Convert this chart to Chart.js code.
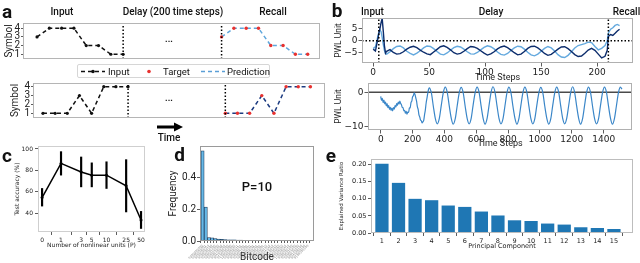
<!DOCTYPE html>
<html>
<head>
<meta charset="utf-8">
<script src="https://cdn.jsdelivr.net/npm/chart.js@4.4.1/dist/chart.umd.min.js"></script>
<style>
  body { margin: 0; width: 640px; height: 263px; overflow: hidden; background: #fff; position: relative; font-family: Roboto, "Noto Sans", sans-serif; color: #111; }
  canvas { position: absolute; }
  .t { position: absolute; white-space: nowrap; line-height: 1; transform: translate(-50%, -50%); }
  .lbl { font-size: 19px; font-weight: 700; }
  .ttl { font-size: 10px; font-weight: 500; }
  #legA { position: absolute; left: 77px; top: 64px; width: 193px; height: 14px; border: 1px solid #d6d6d6; border-radius: 2px; box-sizing: border-box; font-size: 9.5px; }
  #legA span { position: absolute; top: 1px; line-height: 11px; }
  #legA svg { position: absolute; top: 1px; }
</style>
</head>
<body>
<canvas id="chartA1"></canvas>
<canvas id="chartA2"></canvas>
<canvas id="chartC"></canvas>
<canvas id="chartD"></canvas>
<canvas id="chartE"></canvas>
<canvas id="chartB1"></canvas>
<canvas id="chartB2"></canvas>

<div class="t lbl" style="left:7px;top:11px">a</div>
<div class="t ttl" style="left:62px;top:11.5px">Input</div>
<div class="t ttl" style="left:173px;top:11.5px">Delay (200 time steps)</div>
<div class="t ttl" style="left:273px;top:11.5px">Recall</div>
<div class="t" style="left:169px;top:39px;font-size:9px;font-weight:700">...</div>
<div class="t" style="left:169px;top:98px;font-size:9px;font-weight:700">...</div>
<svg style="position:absolute;left:157px;top:122px" width="27" height="10">
  <rect x="0" y="3.5" width="19" height="3" fill="#000"/>
  <polygon points="17,0.5 26,5 17,9.5" fill="#000"/>
</svg>
<div class="t ttl" style="left:169px;top:137.5px">Time</div>

<div class="t lbl" style="left:337px;top:10px">b</div>
<div class="t ttl" style="left:372.5px;top:11.5px">Input</div>
<div class="t ttl" style="left:491px;top:11.5px">Delay</div>
<div class="t ttl" style="left:626.5px;top:11.5px">Recall</div>

<div class="t lbl" style="left:7px;top:154.5px">c</div>
<div class="t lbl" style="left:179.5px;top:154px">d</div>
<div class="t lbl" style="left:331px;top:154.5px">e</div>
<div class="t" style="left:257px;top:186px;font-size:13px;font-weight:500">P=10</div>

<div id="legA">
  <svg width="24" height="11" style="left:3px"><line x1="0" y1="5.5" x2="24" y2="5.5" stroke="#111" stroke-width="1.5" stroke-dasharray="4,3"/><circle cx="12" cy="5.5" r="1.8" fill="#111"/></svg>
  <span style="left:30px">Input</span>
  <svg width="6" height="11" style="left:68px"><circle cx="3" cy="5.5" r="1.8" fill="#e8312f"/></svg>
  <span style="left:85px">Target</span>
  <svg width="24" height="11" style="left:123px"><line x1="0" y1="5.5" x2="24" y2="5.5" stroke="#5b9fd6" stroke-width="1.5" stroke-dasharray="4,3"/></svg>
  <span style="left:149px">Prediction</span>
</div>

<script>
// ---- panel a: symbol sequences
const inputStepsA = [1, 2, 3, 4, 5, 6, 7, 8];
const recallStepsA = [16, 17, 18, 19, 20, 21, 22, 23];
const symbolsA1 = [3, 4, 4, 4, 2, 2, 1, 1];
const predictionA1 = [3, 4, 4, 4, 2, 2, 1, 1];
const symbolsA2 = [1, 1, 1, 3, 1, 4, 4, 4];
const predictionA2 = [1, 1, 1, 3, 1, 4, 4, 4];
const delayBoundsA = [8, 16];
const symbolTicks = [1, 2, 3, 4];

// ---- panel b (top): two PWL units over the task
const timeB1 = [0, 2, 4, 5, 6, 7, 8, 9, 10, 11, 12,
  15, 18, 21, 24, 27, 30, 33, 36, 39, 42, 45, 48, 51, 54, 57, 60, 63, 66, 69, 72, 75, 78, 81, 84, 87, 90,
  93, 96, 99, 102, 105, 108, 111, 114, 117, 120, 123, 126, 129, 132, 135, 138, 141, 144, 147, 150, 153,
  156, 159, 162, 165, 168, 171, 174, 177, 180, 183, 186, 189, 192, 195, 198, 201, 204, 207,
  209, 210, 212, 214, 216, 218, 220];
const unitDark = [-3.5, -4.3, 0.5, 3, 5, 7.5, 9.4, 4, -2, -5.2, -4.4,
  -3.7, -4.9, -5.6, -5.4, -4.6, -3.5, -2.7, -2.3, -2.9, -3.9, -4.8, -5.5, -5.8, -4.7, -3.6, -2.5, -2.1, -2.8, -3.8, -5.0, -5.6, -5.3, -4.4, -3.3, -2.4, -2.6,
  -3.2, -4.2, -5.2, -6.0, -5.5, -4.6, -3.4, -2.6, -2.2, -2.9, -3.9, -5.0, -5.9, -5.6, -4.5, -3.2, -2.4, -2.3, -3.0, -4.1, -5.3,
  -6.1, -5.7, -4.6, -3.5, -2.6, -2.5, -3.3, -4.5, -5.8, -6.6, -6.4, -5.2, -3.9, -3.2, -4.0, -5.6, -7.2, -6.5,
  -4, 1.8, 2.6, 2.2, 3.1, 4.1, 4.8];
const unitLight = [-3.2, -2.6, 1.5, 3.5, 4.6, 3.8, 1.5, -1.5, -4, -5.3, -5.6,
  -4.6, -3.3, -2.4, -2.2, -3.0, -4.4, -5.3, -5.9, -5.2, -4.2, -3.0, -2.2, -2.4, -3.3, -4.5, -5.6, -5.9, -5.1, -4.0, -2.9, -2.3, -2.6, -3.5, -4.6, -5.5, -5.6,
  -4.9, -3.8, -2.8, -2.1, -2.5, -3.4, -4.7, -5.7, -6.0, -5.3, -4.1, -3.0, -2.3, -2.5, -3.5, -4.8, -5.9, -6.3, -5.6, -4.4, -3.2,
  -2.4, -3.0, -4.3, -5.8, -6.8, -7.0, -6.1, -4.6, -3.0, -2.0, -1.6, -1.2, -0.6, -0.8, -2.4, -3.8, -3.2, -2.0,
  0, 3.2, 4.8, 5.4, 6.4, 6.8, 6.3];
const boundsB1 = [5, 210];

// ---- panel b (bottom): one unit over a long run
const timeB2 = [0, 5, 10, 15, 20, 25, 30, 35, 40, 45, 50, 55, 60, 65, 70, 75, 80, 85, 90, 95,
  100, 105, 110, 115, 120, 125, 130, 135, 140, 145, 150, 155, 160, 165, 170, 175, 180, 185, 190, 195,
  200, 205, 210, 215, 220, 225, 230, 235, 240, 245, 250, 255, 260, 265, 270, 275, 280, 285, 290, 295, 300,
  305, 318, 330, 343, 355, 368, 380, 393,
  405, 418, 430, 443, 455, 468, 480, 493,
  505, 518, 530, 543, 555, 568, 580, 593,
  605, 618, 630, 643, 655, 668, 680, 693,
  705, 718, 730, 743, 755, 768, 780, 793,
  805, 818, 830, 843, 855, 868, 880, 893,
  905, 918, 930, 943, 955, 968, 980, 993,
  1005, 1018, 1030, 1043, 1055, 1068, 1080, 1093,
  1105, 1118, 1130, 1143, 1155, 1168, 1180, 1193,
  1205, 1218, 1230, 1243, 1255, 1268, 1280, 1293,
  1305, 1318, 1330, 1343, 1355, 1368, 1380, 1393,
  1405, 1418, 1430, 1443, 1455, 1468, 1480, 1493,
  1505, 1515];
const unitB2 = [-1.2, -2.4, -1.8, -3.0, -2.3, -3.4, -2.9, -4.0, -3.3, -4.5, -3.9, -5.0, -4.4, -5.3, -4.6, -5.4, -4.5, -4.9, -3.9, -4.3,
  -3.3, -3.8, -2.9, -3.4, -2.6, -3.3, -3.6, -4.4, -4.5, -5.4, -5.3, -6.1, -5.6, -6.4, -5.8, -5.9, -4.6, -4.5, -3.0, -2.6,
  -1.3, -1.0, -0.2, -0.6, -1.6, -2.6, -4.2, -5.0, -6.6, -7.2, -8.1, -8.3, -8.9, -8.6, -8.2, -6.6, -5.2, -3.2, -1.8, -0.4, 0.8,
  1.3, -0.2, -4.0, -7.7, -9.2, -7.6, -3.9, -0.1,
  1.5, -0.1, -3.9, -7.6, -9.3, -7.7, -4.0, -0.2,
  1.4, -0.2, -4.0, -7.7, -9.2, -7.6, -3.8, -0.1,
  1.5, -0.1, -3.9, -7.6, -9.3, -7.6, -3.9, 0.0,
  1.6, -0.1, -3.9, -7.7, -9.2, -7.7, -4.0, -0.1,
  1.5, -0.2, -4.0, -7.6, -9.3, -7.6, -3.9, -0.1,
  1.5, -0.1, -3.9, -7.7, -9.2, -7.6, -3.9, -0.2,
  1.4, -0.2, -4.0, -7.6, -9.3, -7.7, -3.9, -0.1,
  1.5, -0.1, -3.9, -7.7, -9.2, -7.6, -4.0, -0.1,
  1.6, -0.1, -3.9, -7.6, -9.3, -7.6, -3.9, 0.0,
  1.5, -0.2, -4.0, -7.7, -9.2, -7.7, -3.9, -0.1,
  1.5, -0.1, -3.9, -7.6, -9.3, -7.6, -4.0, -0.1,
  1.5, 0.9];

// ---- panel c: accuracy vs number of nonlinear units
const unitsP = [0, 1, 3, 5, 10, 25, 50];
const accuracy = [54.5, 86.5, 78.5, 75.5, 75.5, 65.5, 33.5];
const accLow = [46.5, 75.5, 64.5, 64.5, 63, 41, 25.5];
const accHigh = [63, 97.5, 92.5, 87, 88, 90, 41.5];
const accTicks = [40, 60, 80, 100];

// ---- panel d: bitcode frequencies
const bitcodes = ['0000000000', '0000000001', '0000000010', '0000000100', '0000001000', '0000010000', '0000100000',
  '0001000000', '0010000000', '0100000000', '1000000000', '0000000011', '0000000101', '0000001001', '0000010001',
  '0000100001', '0001000001', '0010000001', '0100000001', '1000000001', '0000000110', '0000001010', '0000010010',
  '0000100010', '0001000010', '0010000010', '0100000010', '1000000010', '0000001100', '0000010100', '0000100100',
  '0001000100', '0010000100', '0100000100'];
const frequency = [0.57, 0.215, 0.022, 0.02, 0.015, 0.012, 0.01, 0.009, 0.008, 0.007, 0.007, 0.006, 0.006, 0.005,
  0.005, 0.005, 0.004, 0.004, 0.004, 0.003, 0.003, 0.003, 0.002, 0.002, 0.002, 0.002, 0.002, 0.001, 0.001, 0.001,
  0.001, 0.001, 0.001, 0.001];
const freqTicks = [0, 0.2, 0.4];

// ---- panel e: PCA explained variance
const components = [1, 2, 3, 4, 5, 6, 7, 8, 9, 10, 11, 12, 13, 14, 15];
const varianceRatio = [0.202, 0.146, 0.0995, 0.0955, 0.08, 0.076, 0.0625, 0.051, 0.037, 0.035, 0.0275, 0.0245, 0.0167, 0.0146, 0.0117];
const varianceTicks = [0, 0.05, 0.1, 0.15, 0.2];

const xy = (xs, ys) => xs.map((x, i) => ({ x: x, y: ys[i] }));
const minus = v => String(v).replace('-', '\u2212');

// draws the full box round the plot area, like matplotlib spines
Chart.register({
  id: 'frame',
  afterDatasetsDraw(chart, args, opts) {
    const a = chart.chartArea, ctx = chart.ctx;
    ctx.save();
    ctx.strokeStyle = opts.color || '#aaa';
    ctx.lineWidth = 1;
    ctx.strokeRect(Math.round(a.left) + 0.5, Math.round(a.top) + 0.5, Math.round(a.right - a.left) - 1, Math.round(a.bottom - a.top) - 1);
    ctx.restore();
  }
});

function scaleCfg(s) {
  const hasTicks = !!s.ticks && !s.hideTicks;
  return {
    type: 'linear', min: s.min, max: s.max, offset: false,
    afterBuildTicks: sc => { sc.ticks = (s.ticks || []).map(v => ({ value: v })); },
    afterFit: sc => {
      if (s.width !== undefined) sc.width = s.width;
      if (s.height !== undefined) sc.height = s.height;
      sc.paddingLeft = sc.paddingRight = sc.paddingTop = sc.paddingBottom = 0;
    },
    ticks: {
      display: hasTicks, font: s.font, color: s.tickColor || '#222', padding: s.pad !== undefined ? s.pad : 1,
      autoSkip: false, maxRotation: s.rot || 0, minRotation: s.rot || 0,
      callback: s.fmt || minus
    },
    grid: { display: hasTicks, drawOnChartArea: false, tickLength: s.tickLen !== undefined ? s.tickLen : 3, tickColor: '#333', tickWidth: 0.8 },
    border: { display: false },
    title: s.title ? { display: true, text: s.title, font: s.titleFont, color: '#222', padding: s.titlePad } : { display: false }
  };
}

// box = [left, top, width, height] of the canvas, area = [left, top, right, bottom] of the plot
function makeChart(id, box, area, type, datasets, xs, ys, frameColor) {
  const c = document.getElementById(id);
  c.width = box[2]; c.height = box[3];
  c.style.left = box[0] + 'px'; c.style.top = box[1] + 'px';
  xs.height = box[1] + box[3] - area[3];
  ys.width = area[0] - box[0];
  return new Chart(c, {
    type: type,
    data: { datasets: datasets },
    options: {
      responsive: false, animation: false, events: [],
      layout: { autoPadding: false, padding: { left: 0, bottom: 0, top: area[1] - box[1], right: box[0] + box[2] - area[2] } },
      elements: { point: { radius: 0 }, line: { fill: false } },
      plugins: { legend: { display: false }, tooltip: { enabled: false }, frame: { color: frameColor } },
      scales: { x: scaleCfg(xs), y: scaleCfg(ys) }
    }
  });
}

const fontA = { family: 'Roboto', size: 10 };
const vline = (x, lo, hi) => [{ x: x, y: lo }, { x: x, y: hi }];
const dotted = { borderColor: '#000', borderWidth: 1.5, borderDash: [1.5, 2] };

// ---- a, top
const a1Y = [0.45, 4.6];
makeChart('chartA1', [0, 20, 325, 42], [23, 23, 320, 59], 'line', [
  Object.assign({ data: vline(delayBoundsA[0], a1Y[0], a1Y[1]) }, dotted),
  Object.assign({ data: vline(delayBoundsA[1], a1Y[0], a1Y[1]) }, dotted),
  { data: xy(recallStepsA, symbolsA1), showLine: false, pointRadius: 1.7, pointBackgroundColor: '#e8312f', pointBorderWidth: 0 },
  { data: xy(recallStepsA, predictionA1), borderColor: '#5ea6dc', borderWidth: 1.5, borderDash: [4, 3] },
  { data: xy(inputStepsA, symbolsA1), borderColor: '#111', borderWidth: 1.5, borderDash: [4, 3], pointRadius: 1.6, pointBackgroundColor: '#111', pointBorderWidth: 0 }
], { min: -0.14, max: 24.0, hideTicks: true },
   { min: a1Y[0], max: a1Y[1], ticks: symbolTicks, font: fontA, tickLen: 2, pad: 1,
     title: 'Symbol', titleFont: { family: 'Roboto', size: 10 }, titlePad: { top: 3 } }, '#b5b5b5');

// ---- a, bottom
const a2Y = [0.47, 4.42];
makeChart('chartA2', [0, 80, 330, 42], [33, 83, 325, 118], 'line', [
  Object.assign({ data: vline(delayBoundsA[0], a2Y[0], a2Y[1]) }, dotted),
  Object.assign({ data: vline(delayBoundsA[1], a2Y[0], a2Y[1]) }, dotted),
  { data: xy(recallStepsA, symbolsA2), showLine: false, pointRadius: 1.7, pointBackgroundColor: '#e8312f', pointBorderWidth: 0 },
  { data: xy(recallStepsA, predictionA2), borderColor: '#1c3b80', borderWidth: 1.5, borderDash: [4, 3] },
  { data: xy(inputStepsA, symbolsA2), borderColor: '#111', borderWidth: 1.5, borderDash: [4, 3], pointRadius: 1.6, pointBackgroundColor: '#111', pointBorderWidth: 0 }
], { min: 0.18, max: 24.2, hideTicks: true },
   { min: a2Y[0], max: a2Y[1], ticks: symbolTicks, font: fontA, tickLen: 2, pad: 1,
     title: 'Symbol', titleFont: { family: 'Roboto', size: 10 }, titlePad: { top: 9 } }, '#b5b5b5');

// ---- c (x axis is asinh-scaled, like a symlog axis)
const cX = unitsP.map(p => Math.asinh(p));
makeChart('chartC', [0, 140, 150, 110], [38, 146, 145, 232], 'line', [
  { data: xy(cX, accuracy), borderColor: '#000', borderWidth: 1.5, pointRadius: 1.5, pointBackgroundColor: '#000', pointBorderWidth: 0 },
  { type: 'bar', data: cX.map((x, i) => ({ x: x, y: [accLow[i], accHigh[i]] })), backgroundColor: '#000', barThickness: 1.5 }
], { min: -0.19, max: 4.79, ticks: cX, fmt: (v, i) => String(unitsP[i]), font: { family: 'DejaVu Sans', size: 6 }, tickLen: 3, pad: 1.5,
     title: 'Number of nonlinear units (P)', titleFont: { family: 'DejaVu Sans', size: 6 }, titlePad: { top: 0, bottom: 1.3 } },
   { min: 22.2, max: 102.8, ticks: accTicks, font: { family: 'DejaVu Sans', size: 6 }, tickLen: 3, pad: 2,
     title: 'Test accuracy (%)', titleFont: { family: 'DejaVu Sans', size: 6 }, titlePad: { top: 13.5 } }, '#cfcfcf');

// ---- d
const dIdx = bitcodes.map((b, i) => i);
makeChart('chartD', [160, 140, 160, 123], [200, 146, 314, 241], 'bar', [
  { data: xy(dIdx, frequency), backgroundColor: '#66b9e8', borderColor: '#1d3a5a', borderWidth: 0.8, barPercentage: 1, categoryPercentage: 1 }
], { min: -0.8, max: 34.8, ticks: dIdx, fmt: (v, i) => bitcodes[i], font: { family: 'DejaVu Sans', size: 3 }, tickColor: '#777', rot: 45, tickLen: 2, pad: 1,
     title: 'Bitcode', titleFont: { family: 'Roboto', size: 10 }, titlePad: { top: 0, bottom: 0 } },
   { min: 0, max: 0.6, ticks: freqTicks, fmt: v => v.toFixed(1), font: fontA, tickLen: 3, pad: 1,
     title: 'Frequency', titleFont: { family: 'Roboto', size: 10 }, titlePad: { top: 7 } }, '#9a9a9a');

// ---- e
makeChart('chartE', [325, 150, 315, 101], [371, 159, 633, 233], 'bar', [
  { data: xy(components, varianceRatio), backgroundColor: '#1f77b4', barPercentage: 0.8, categoryPercentage: 1 }
], { min: 0.34, max: 16.15, ticks: components, font: { family: 'DejaVu Sans', size: 6.5 }, tickLen: 3, pad: 1,
     title: 'Principal Component', titleFont: { family: 'DejaVu Sans', size: 6.5 }, titlePad: { top: 0, bottom: 0.5 } },
   { min: 0, max: 0.2155, ticks: varianceTicks, fmt: v => v.toFixed(2), font: { family: 'DejaVu Sans', size: 6.5 }, tickLen: 3, pad: 1.5,
     title: 'Explained Variance Ratio', titleFont: { family: 'DejaVu Sans', size: 5.5 }, titlePad: { top: 13 } }, '#bdbdbd');

// ---- b, top
const b1X = [-10, 232], b1Y = [-9.3, 9.5];
makeChart('chartB1', [330, 15, 310, 68], [362, 18, 633, 63], 'line', [
  Object.assign({ data: vline(boundsB1[0], b1Y[0], b1Y[1]) }, dotted),
  Object.assign({ data: vline(boundsB1[1], b1Y[0], b1Y[1]) }, dotted),
  Object.assign({ data: [{ x: b1X[0], y: 0 }, { x: b1X[1], y: 0 }] }, dotted),
  { data: xy(timeB1, unitDark), borderColor: '#0d2d6c', borderWidth: 1.4 },
  { data: xy(timeB1, unitLight), borderColor: '#64a9de', borderWidth: 1.4 }
], { min: b1X[0], max: b1X[1], ticks: [0, 50, 100, 150, 200], font: { family: 'DejaVu Sans', size: 9 }, tickLen: 3.5, pad: 1,
     title: 'Time Steps', titleFont: { family: 'Roboto', size: 9 }, titlePad: { top: 0, bottom: 0 } },
   { min: b1Y[0], max: b1Y[1], ticks: [-5, 0, 5], font: { family: 'DejaVu Sans', size: 9 }, tickLen: 3.5, pad: 1,
     title: 'PWL Unit', titleFont: { family: 'Roboto', size: 8.5 }, titlePad: { top: 4 } }, '#b0b0b0');

// ---- b, bottom
const b2X = [-80, 1578], b2Y = [-11.0, 2.7];
makeChart('chartB2', [330, 80, 310, 70], [368, 83, 632, 130], 'line', [
  { data: xy(timeB2, unitB2), borderColor: '#3a86c8', borderWidth: 1.2, cubicInterpolationMode: 'monotone' },
  { data: [{ x: b2X[0], y: 0 }, { x: b2X[1], y: 0 }], borderColor: '#4a4a4a', borderWidth: 1.5 }
], { min: b2X[0], max: b2X[1], ticks: [0, 200, 400, 600, 800, 1000, 1200, 1400], font: { family: 'DejaVu Sans', size: 9 }, tickLen: 3.5, pad: 1,
     title: 'Time Steps', titleFont: { family: 'Roboto', size: 9 }, titlePad: { top: 0, bottom: 1 } },
   { min: b2Y[0], max: b2Y[1], ticks: [-10, 0], font: { family: 'DejaVu Sans', size: 9 }, tickLen: 3.5, pad: 1,
     title: 'PWL Unit', titleFont: { family: 'Roboto', size: 8.5 }, titlePad: { top: 4 } }, '#b0b0b0');
</script>
</body>
</html>
